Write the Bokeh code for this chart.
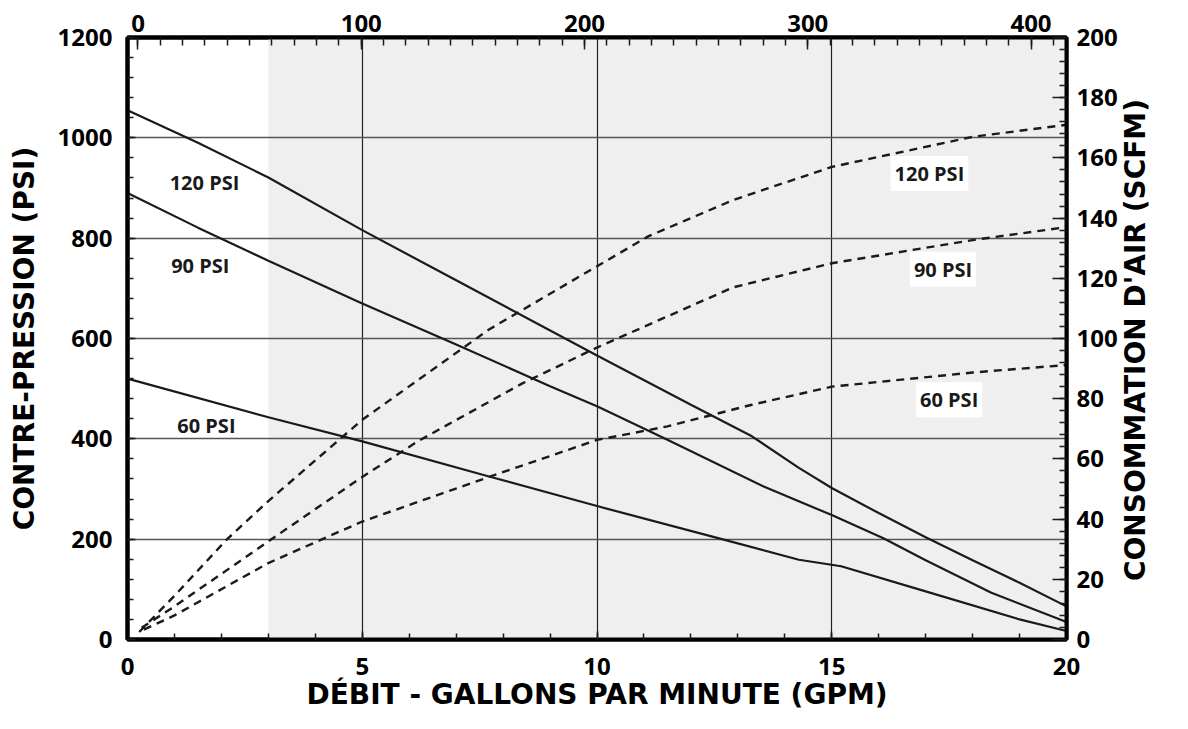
import math
from bokeh.plotting import figure
from bokeh.models import Range1d, LinearAxis, FixedTicker, BoxAnnotation, Label
from bokeh.embed import file_html
from bokeh.resources import INLINE

# ---------------- data ----------------
# Back-pressure (PSI, left axis) vs flow (GPM)
gpm_p120 = [0, 1.5, 3, 5, 7, 10, 12, 13.3, 14.3, 15, 16, 17, 18, 19, 20]
psi_p120 = [1055, 990, 921, 816, 716, 566, 468, 405, 342, 302, 252, 204, 158, 113, 66]
gpm_p90 = [0, 1.5, 3, 5, 7, 9, 10, 11.5, 13.55, 15, 16.1, 17, 18.4, 20]
psi_p90 = [890, 821, 755, 670, 588, 505, 465, 398, 305, 248, 202, 158, 93, 35]
gpm_p60 = [0, 3, 5, 7.7, 10, 12.7, 14.3, 15.2, 17, 19, 20]
psi_p60 = [520, 443, 395, 325, 266, 199, 159, 146, 96, 40, 17]

# Air consumption (SCFM, right axis) vs flow (GPM)
gpm_a120 = [0.25, 1, 2.1, 3, 5, 7.7, 10, 11.1, 12.9, 15, 18, 20]
scfm_a120 = [2.5, 14.5, 33, 46, 73, 103, 124, 134, 146, 157, 167, 171]
gpm_a90 = [0.3, 1, 3, 5, 6.2, 8.4, 10, 12.9, 15, 18, 20]
scfm_a90 = [3.9, 11, 32.6, 54, 66, 85, 97, 117, 125, 132.7, 137]
gpm_a60 = [0.35, 1, 3, 5, 7.7, 10, 11.5, 13.3, 15, 18, 20]
scfm_a60 = [3.3, 8, 25.4, 39.2, 54, 66.3, 70.8, 78, 84, 88.7, 91.2]

# axes / ticks
x_ticks = [0, 5, 10, 15, 20]
x_minor = list(range(0, 21))
y_ticks = [0, 200, 400, 600, 800, 1000, 1200]
y_minor = list(range(0, 1201, 40))
scfm_ticks = list(range(0, 201, 20))
scfm_minor = list(range(0, 201, 4))
top_ticks = [0, 100, 200, 300, 400]
top_minor = list(range(0, 411, 10))
TOP_RANGE = (-4.7, 415.9)
SHADE_FROM_GPM = 3

INK = "#1a1a1a"
TICK_FONT = "Open Sans"
TITLE_FONT = "DejaVu Sans"
RIGHT_TITLE = "CONSOMMATION D'AIR (SCFM)"

p = figure(width=1172, height=713,
           x_range=Range1d(0, 20), y_range=Range1d(0, 1200),
           output_backend="svg", toolbar_location=None,
           min_border_left=127, min_border_right=106,
           min_border_top=37, min_border_bottom=73)
p.extra_x_ranges = {"top": Range1d(*TOP_RANGE)}
p.extra_y_ranges = {"scfm": Range1d(0, 200)}
p.background_fill_color = "white"
p.border_fill_color = "white"
p.outline_line_color = "black"
p.outline_line_width = 4

# shaded region
p.add_layout(BoxAnnotation(left=SHADE_FROM_GPM, fill_color="#efefef", fill_alpha=1.0,
                           line_color=None, level="image"))

# grids
p.xgrid.ticker = FixedTicker(ticks=[5, 10, 15])
p.xgrid.grid_line_color = "#222222"
p.xgrid.grid_line_width = 1.2
p.ygrid.ticker = FixedTicker(ticks=[200, 400, 600, 800, 1000])
p.ygrid.grid_line_color = "#555555"
p.ygrid.grid_line_width = 1.4


def style_axis(ax, major_in, minor_in, standoff):
    ax.axis_line_color = "black"
    ax.axis_line_width = 4
    ax.major_tick_in = major_in
    ax.major_tick_out = 0
    ax.minor_tick_in = minor_in
    ax.minor_tick_out = 0
    ax.major_tick_line_color = INK
    ax.major_tick_line_width = 1.5
    ax.minor_tick_line_color = INK
    ax.minor_tick_line_width = 1.5
    ax.major_label_text_font = TICK_FONT
    ax.major_label_text_font_style = "bold"
    ax.major_label_text_font_size = "24px"
    ax.major_label_text_color = "black"
    ax.major_label_standoff = standoff


def style_title(ax, text, standoff):
    ax.axis_label = text
    ax.axis_label_text_font = TITLE_FONT
    ax.axis_label_text_font_style = "bold"
    ax.axis_label_text_font_size = "28px"
    ax.axis_label_text_color = "black"
    ax.axis_label_standoff = standoff


xb = p.xaxis[0]
xb.ticker = FixedTicker(ticks=x_ticks, minor_ticks=x_minor)
style_axis(xb, 8, 6, 18)
style_title(xb, "DÉBIT - GALLONS PAR MINUTE (GPM)", 0)

yl = p.yaxis[0]
yl.ticker = FixedTicker(ticks=y_ticks, minor_ticks=y_minor)
style_axis(yl, 8, 6, 15)
style_title(yl, "CONTRE-PRESSION (PSI)", 14)

# right axis: ticks, labels and title (title reads bottom-to-top)
yr = LinearAxis(y_range_name="scfm", ticker=FixedTicker(ticks=scfm_ticks, minor_ticks=scfm_minor))
style_axis(yr, 14, 7, 10)
_props = LinearAxis.properties()
if "axis_label_orientation" in _props and "axis_label_align" in _props:
    style_title(yr, "\u00a0" * 6 + RIGHT_TITLE, 15)
    yr.axis_label_orientation = math.pi / 2
    yr.axis_label_align = "start"
else:
    style_title(yr, RIGHT_TITLE, 15)
p.add_layout(yr, "right")

xt = LinearAxis(x_range_name="top", ticker=FixedTicker(ticks=top_ticks, minor_ticks=top_minor))
style_axis(xt, 12, 8, 6)
p.add_layout(xt, "above")

# curves
for gx, gy in [(gpm_p120, psi_p120), (gpm_p90, psi_p90), (gpm_p60, psi_p60)]:
    p.line(gx, gy, line_color=INK, line_width=2.2)
for gx, gy in [(gpm_a120, scfm_a120), (gpm_a90, scfm_a90), (gpm_a60, scfm_a60)]:
    p.line(gx, gy, y_range_name="scfm", line_color=INK, line_width=2.4, line_dash="8 6")

# in-plot labels
left_labels = [("120 PSI", 1.64, 910), ("90 PSI", 1.55, 745), ("60 PSI", 1.68, 427)]
for t, lx, ly in left_labels:
    p.add_layout(Label(x=lx, y=ly, text=t, text_align="center", text_baseline="middle",
                       text_font=TICK_FONT, text_font_style="bold", text_font_size="20px",
                       text_color=INK))
right_labels = [("120 PSI", 17.08, 929), ("90 PSI", 17.37, 738), ("60 PSI", 17.5, 478)]
for t, lx, ly in right_labels:
    p.add_layout(Label(x=lx, y=ly, text=t, text_align="center", text_baseline="middle",
                       text_font=TICK_FONT, text_font_style="bold", text_font_size="20px",
                       text_color=INK, background_fill_color="white", background_fill_alpha=1.0,
                       padding=4))

open("out.html", "w").write(file_html(p, INLINE))
